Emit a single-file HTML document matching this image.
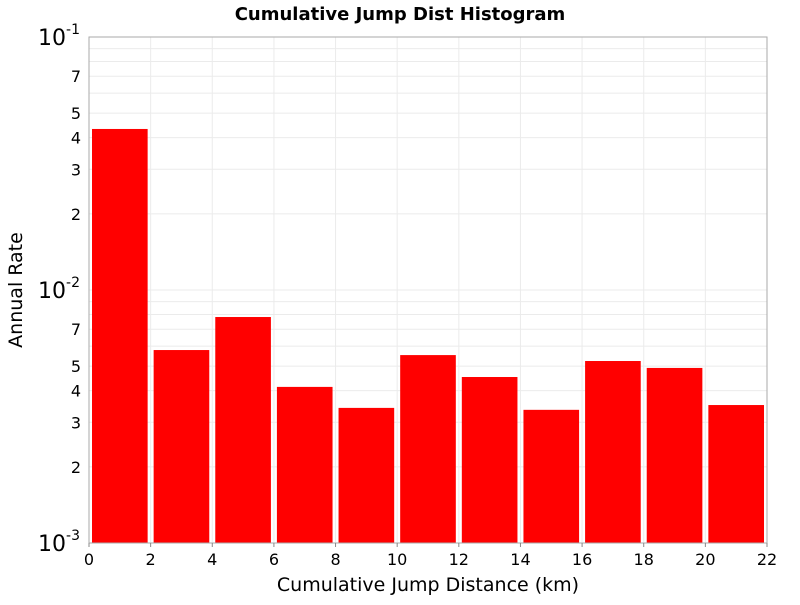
<!DOCTYPE html>
<html><head><meta charset="utf-8"><style>body{margin:0;background:#fff}svg{font-family:"DejaVu Sans","Liberation Sans",sans-serif}</style></head>
<body>
<svg id="c" width="800" height="600"></svg>
<script>
const binStarts=[0,2,4,6,8,10,12,14,16,18,20];
const rates=[0.0433,0.00579,0.00782,0.00414,0.00342,0.00553,0.00453,0.00336,0.00524,0.00492,0.00351];
const xTicks=[0,2,4,6,8,10,12,14,16,18,20,22];
const minorLabels=[2,3,4,5,7];
const decades=[-3,-2,-1];
const L=89,R=767,T=37,B=543;
const NS="http://www.w3.org/2000/svg";
const svg=document.getElementById('c');
const xs=v=>L+(v/22)*(R-L);
const ys=v=>B-(Math.log10(v)+3)/2*(B-T);
function mk(t,a,p){const e=document.createElementNS(NS,t);for(const k in a)e.setAttribute(k,a[k]);(p||svg).appendChild(e);return e;}
const grid=mk('g',{});


for(const d of [-3,-2]){for(let m=2;m<=9;m++){const y=ys(m*Math.pow(10,d));mk('line',{x1:L,x2:R,y1:y,y2:y,stroke:'#ebebeb'},grid);}
 const y=ys(Math.pow(10,d));mk('line',{x1:L,x2:R,y1:y,y2:y,stroke:'#ebebeb'},grid);}
for(const t of xTicks){const x=xs(t);mk('line',{x1:x,x2:x,y1:T,y2:B,stroke:'#ebebeb'},grid);}
const bars=mk('g',{});


binStarts.forEach((s,i)=>{const x0=xs(s)+3,x1=xs(s+2)-3,y=ys(rates[i]);
 const r=mk('rect',{x:x0,y:y,width:x1-x0,height:B-y,fill:'#ff0000'},bars);
 
 });
const fr=mk('rect',{x:L,y:T,width:R-L,height:B-T,fill:'none',stroke:'#aaa'});


const xa=mk('g',{'font-size':16,'text-anchor':'middle'});


for(const t of xTicks){const x=xs(t);mk('line',{x1:x,x2:x,y1:B,y2:B+4,stroke:'#888'},xa);const tx=mk('text',{x:x,y:B+22},xa);tx.textContent=t;}
const ya=mk('g',{'font-size':16,'text-anchor':'end'});


for(const d of decades){const y=ys(Math.pow(10,d));const tx=mk('text',{x:L-9,y:y+8,'font-size':22},ya);tx.textContent='10';const s=mk('tspan',{dy:-11,'font-size':14},tx);s.textContent=d;}
for(const d of [-3,-2]){for(const m of minorLabels){const y=ys(m*Math.pow(10,d));const tx=mk('text',{x:L-8,y:y+6},ya);tx.textContent=m;}}
const ti=mk('text',{x:400,y:20,'font-size':18,'font-weight':'bold','text-anchor':'middle'});ti.textContent='Cumulative Jump Dist Histogram';

const xt=mk('text',{x:428,y:591,'font-size':19,'text-anchor':'middle'});xt.textContent='Cumulative Jump Distance (km)';

const yt=mk('text',{x:22,y:290,'font-size':19,'text-anchor':'middle',transform:'rotate(-90 22 290)'});yt.textContent='Annual Rate';

</script>
</body></html>
